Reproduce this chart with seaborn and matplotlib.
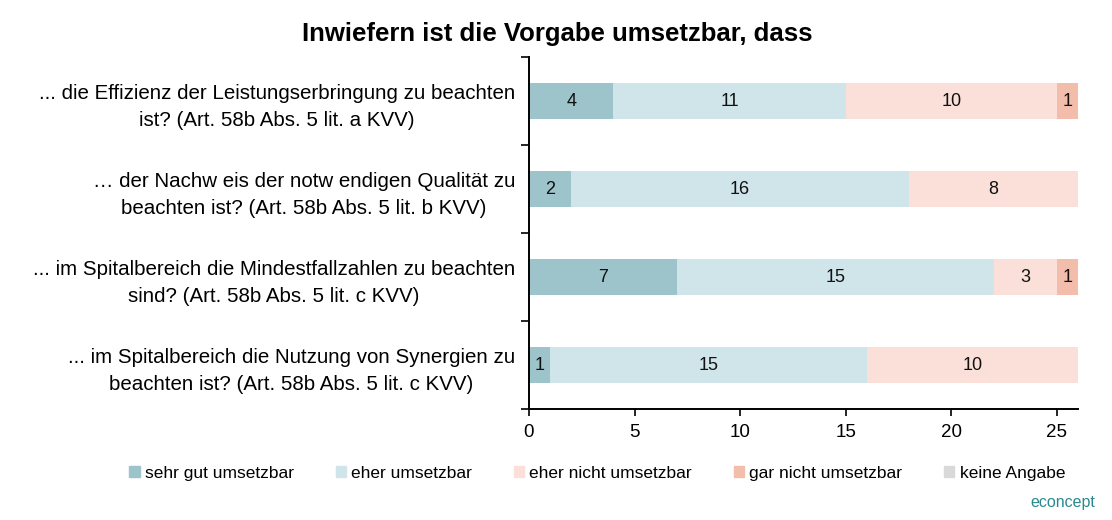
import pandas as pd
import matplotlib.pyplot as plt
import matplotlib.patches as mpatches
import seaborn as sns

# Daten
fragen = [
    "... die Effizienz der Leistungserbringung zu beachten\nist? (Art. 58b Abs. 5 lit. a KVV)",
    "… der Nachw eis der notw endigen Qualität zu\nbeachten ist? (Art. 58b Abs. 5 lit. b KVV)",
    "... im Spitalbereich die Mindestfallzahlen zu beachten\nsind? (Art. 58b Abs. 5 lit. c KVV)",
    "... im Spitalbereich die Nutzung von Synergien zu\nbeachten ist? (Art. 58b Abs. 5 lit. c KVV)",
]
kategorien = ["sehr gut umsetzbar", "eher umsetzbar", "eher nicht umsetzbar",
              "gar nicht umsetzbar", "keine Angabe"]
sehr_gut = [4, 2, 7, 1]
eher = [11, 16, 15, 15]
eher_nicht = [10, 8, 3, 10]
gar_nicht = [1, 0, 1, 0]
keine_angabe = [0, 0, 0, 0]
farben = ["#9DC3CB", "#D0E5EA", "#FAE0D8", "#F2BDAA", "#D9D9D9"]

df = pd.DataFrame({"frage": fragen})
for k, v in zip(kategorien, [sehr_gut, eher, eher_nicht, gar_nicht, keine_angabe]):
    df[k] = v
cum = df[kategorien].cumsum(axis=1)

sns.set_style("white")
plt.rcParams["font.family"] = ["Liberation Sans", "DejaVu Sans"]
plt.rcParams["text.color"] = "black"
plt.rcParams["xtick.color"] = "black"
plt.rcParams["ytick.color"] = "black"

fig = plt.figure(figsize=(11.12, 5.2), dpi=100)
ax = fig.add_axes([0.4757, 0.2135, 0.4937, 0.6765])

# gestapelte Balken: von hinten (Summe) nach vorne zeichnen
for k, c in reversed(list(zip(kategorien, farben))):
    sns.barplot(x=cum[k], y=df["frage"], orient="h", color=c, width=0.41,
                saturation=1, ax=ax, linewidth=0)

# Werte beschriften
for i in range(len(df)):
    for k in kategorien:
        val = df.loc[i, k]
        if val > 0:
            mid = cum.loc[i, k] - val / 2
            ax.text(mid, i, f"{val}", ha="center", va="center", fontsize=13, color="#111111")

ax.set_xlim(0, 26)
ax.set_ylim(3.5, -0.5)
ax.set_xticks([0, 5, 10, 15, 20, 25])
ax.set_yticks(range(len(df)))
ax.set_yticklabels(fragen, fontsize=14.8, ha="right", multialignment="center", linespacing=1.5)
ax.tick_params(axis="y", length=0, pad=10)
ax.set_yticks([-0.5, 0.5, 1.5, 2.5, 3.5], minor=True)
ax.tick_params(axis="y", which="minor", length=6, width=1.2, color="black", direction="out", left=True)
ax.tick_params(axis="x", length=5, width=1.2, color="black", direction="out", labelsize=13.5, pad=6, bottom=True)
ax.set_xlabel("")
ax.set_ylabel("")
sns.despine(ax=ax)
for s in ["left", "bottom"]:
    ax.spines[s].set_color("black")
    ax.spines[s].set_linewidth(1.4)

fig.text(0.501, 0.935, "Inwiefern ist die Vorgabe umsetzbar, dass", ha="center", va="center",
         fontsize=18.5, fontweight="bold")

handles = [mpatches.Patch(color=c, label=k) for k, c in zip(kategorien, farben)]
fig.legend(handles=handles, loc="center", bbox_to_anchor=(0.537, 0.09), ncol=5, frameon=False,
           fontsize=12.5, handlelength=0.6, handleheight=0.6, handletextpad=0.3, columnspacing=2.4)

fig.text(0.985, 0.02, "econcept", ha="right", va="bottom", fontsize=11.5, color="#2A8A8F")

fig.savefig("out.png", dpi=100)
